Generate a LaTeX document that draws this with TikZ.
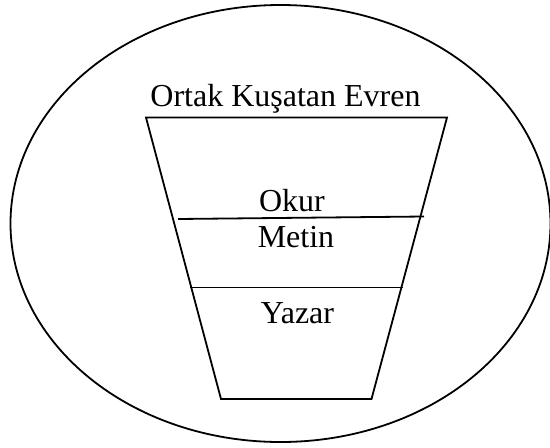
\documentclass[tikz,border=0pt]{standalone}
\usepackage{fontspec}
\setmainfont{Liberation Serif}

\begin{document}
\begin{tikzpicture}[x=1pt, y=-1pt, line width=1.8pt,
  lbl/.style={anchor=base, inner sep=0pt, font=\fontsize{32}{38}\selectfont}]
\useasboundingbox (0, 0) rectangle (550, 448);
\draw (280.5, 223.5) ellipse [x radius=270, y radius=218.5];
\draw (146, 117.5) -- (447, 117.5) -- (371.5, 399) -- (221, 399) -- cycle;
\draw (178, 219) -- (424, 216.5);
\draw (190, 287.5) -- (403, 287.5);
\node[lbl] (evren) at (285.5, 106) {Ortak Kuşatan Evren};
\node[lbl] (okur) at (292, 211) {Okur};
\node[lbl] (metin) at (296, 247) {Metin};
\node[lbl] (yazar) at (297.5, 323) {Yazar};
\end{tikzpicture}
\end{document}
